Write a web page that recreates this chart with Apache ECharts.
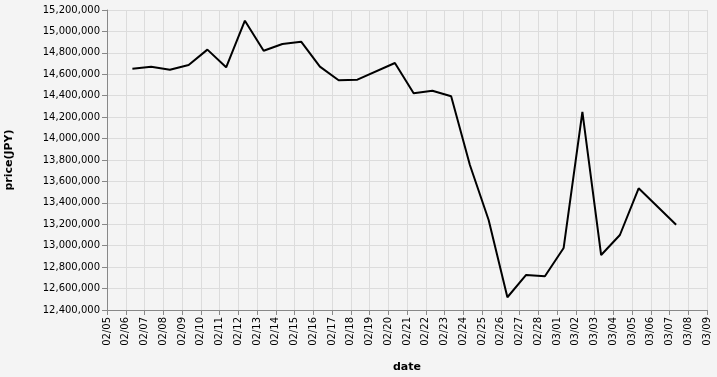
<!DOCTYPE html>
<html>
<head>
<meta charset="utf-8">
<script src="https://cdn.jsdelivr.net/npm/echarts@6/dist/echarts.min.js"></script>
<style>
html,body{margin:0;padding:0;background:#f4f4f4;}
#c{width:717px;height:377px;}
</style>
</head>
<body>
<div id="c"></div>
<script>
// data (2025), times at ~08:30
const dates = ["02-06","02-07","02-08","02-09","02-10","02-11","02-12","02-13","02-14","02-15","02-16","02-17","02-18","02-20","02-21","02-22","02-23","02-24","02-25","02-26","02-27","02-28","03-01","03-02","03-03","03-04","03-05","03-07"];
const prices = [14652000,14671000,14643000,14687000,14830000,14665000,15100000,14820000,14883000,14904000,14671000,14544000,14550000,14705000,14423000,14447000,14395000,13753000,13240000,12519000,12727000,12715000,12979000,14250000,12913000,13100000,13536000,13196000];
const yTicksMin = 12400000, yTicksMax = 15200000, yStep = 200000;
const xStart = [2025,2,5], xEnd = [2025,3,9];

function ts(s){const [m,d]=s.split('-').map(Number);return new Date(2025,m-1,d,8,30).getTime();}
const seriesData = dates.map((d,i)=>[ts(d),prices[i]]);
const DAY = 86400000;
const chart = echarts.init(document.getElementById('c'));
const font = 'DejaVu Sans';
chart.setOption({
  backgroundColor:'#f4f4f4',
  animation:false,
  grid:{left:107,right:10,top:10,bottom:67,containLabel:false,outerBoundsMode:'none'},
  xAxis:{
    type:'time',
    min:new Date(xStart[0],xStart[1]-1,xStart[2]).getTime(),
    max:new Date(xEnd[0],xEnd[1]-1,xEnd[2]).getTime(),
    minInterval:DAY, maxInterval:DAY, interval:DAY,
    name:'date', nameLocation:'middle', nameGap:52,
    nameTextStyle:{fontFamily:font,fontSize:11,fontWeight:'bold',color:'#000'},
    axisLine:{lineStyle:{color:'#888',width:1}},
    axisTick:{show:true,length:5,lineStyle:{color:'#888'}},
    axisLabel:{rotate:90,fontFamily:font,fontSize:10,color:'#000',margin:7,
      formatter:function(v){const d=new Date(v);return String(d.getMonth()+1).padStart(2,'0')+'/'+String(d.getDate()).padStart(2,'0');},
      showMinLabel:true,showMaxLabel:true,hideOverlap:false},
    splitLine:{show:true,lineStyle:{color:'#dcdcdc',width:1}}
  },
  yAxis:{
    type:'value', min:yTicksMin, max:yTicksMax, interval:yStep,
    name:'price(JPY)', nameLocation:'middle', nameGap:92, nameRotate:90,
    nameTextStyle:{fontFamily:font,fontSize:11,fontWeight:'bold',color:'#000'},
    axisLine:{show:true,lineStyle:{color:'#888',width:1}},
    axisTick:{show:true,length:5,lineStyle:{color:'#888'}},
    axisLabel:{fontFamily:font,fontSize:10,color:'#000',margin:7,
      formatter:function(v){return v.toLocaleString('en-US');}},
    splitLine:{show:true,lineStyle:{color:'#dcdcdc',width:1}}
  },
  series:[{type:'line',data:seriesData,showSymbol:false,symbol:'none',
    lineStyle:{color:'#000',width:2},itemStyle:{color:'#000'}}]
});
</script>
</body>
</html>
